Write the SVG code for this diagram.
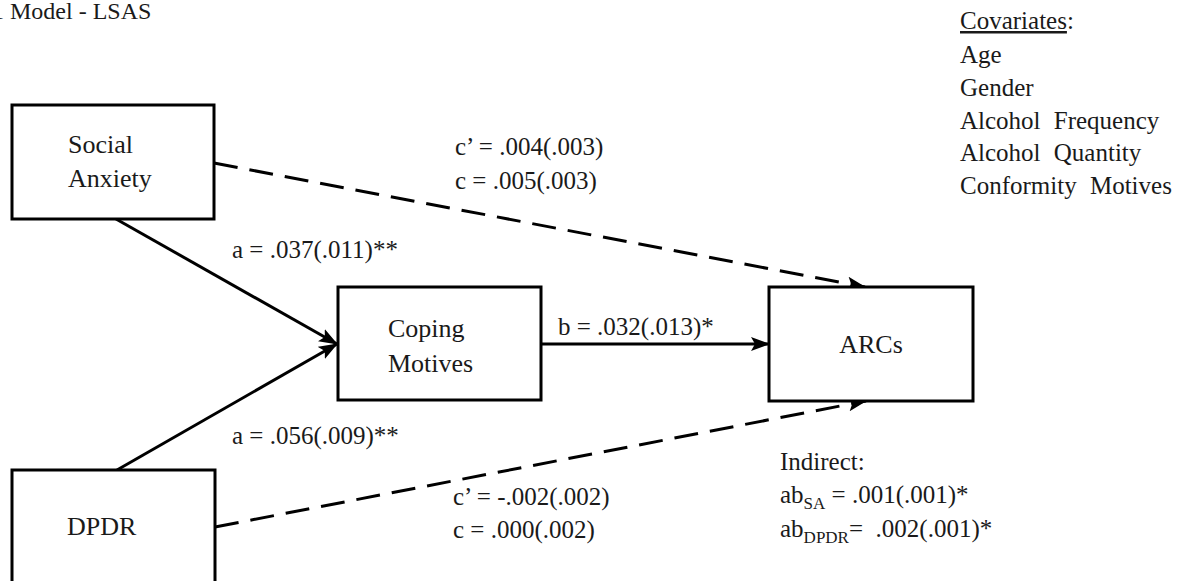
<svg xmlns="http://www.w3.org/2000/svg" width="1189" height="581" viewBox="0 0 1189 581">
<style>
text{font-family:"Liberation Serif","Times New Roman",serif;fill:#1a1a1a;font-size:25px}
.node rect{fill:#fff;stroke:#000;stroke-width:3}
.edge{fill:none;stroke:#000;stroke-width:3}
.dash{stroke-dasharray:24 12}
.nt{font-size:26px}
.sub{font-size:17px}
</style>
<defs>
<marker id="ah" markerUnits="userSpaceOnUse" markerWidth="20" markerHeight="16" viewBox="0 0 20 16" refX="18" refY="8" orient="auto">
<path d="M0,1 L19,8 L0,15 L4,8 Z" fill="#000"/>
</marker>
</defs>
<rect width="1189" height="581" fill="#fff"/>
<text x="-8" y="19" style="font-size:24px">1 Model - LSAS</text>
<g id="covariates">
<text x="960" y="29"><tspan text-decoration="underline">Covariates</tspan>:</text>
<text x="960" y="63">Age</text>
<text x="960" y="96">Gender</text>
<text x="960" y="129" word-spacing="7">Alcohol Frequency</text>
<text x="960" y="161" word-spacing="7">Alcohol Quantity</text>
<text x="960" y="194" word-spacing="7">Conformity Motives</text>
</g>
<g id="connectors">
<path class="edge" d="M116,219 L337,344" marker-end="url(#ah)"/>
<path class="edge" d="M117,470 L337,344" marker-end="url(#ah)"/>
<path class="edge" d="M541,344 L769,344" marker-end="url(#ah)"/>
<path class="edge dash" d="M214,163 L865,287" marker-end="url(#ah)"/>
<path class="edge dash" d="M215,527 L866,401" marker-end="url(#ah)"/>
<text x="455" y="155">c’ = .004(.003)</text>
<text x="455" y="189">c = .005(.003)</text>
<text x="232" y="258">a = .037(.011)**</text>
<text x="558" y="335">b = .032(.013)*</text>
<text x="232" y="444">a = .056(.009)**</text>
<text x="453" y="505">c’ = -.002(.002)</text>
<text x="453" y="538">c = .000(.002)</text>
</g>
<g id="social-anxiety" class="node">
<rect x="12" y="105" width="202" height="114"/>
<text class="nt" x="68" y="153">Social</text>
<text class="nt" x="68" y="187">Anxiety</text>
</g>
<g id="coping-motives" class="node">
<rect x="338" y="287" width="203" height="113"/>
<text class="nt" x="388" y="337">Coping</text>
<text class="nt" x="388" y="372">Motives</text>
</g>
<g id="arcs" class="node">
<rect x="769" y="287" width="204" height="114"/>
<text class="nt" x="871" y="353" text-anchor="middle">ARCs</text>
</g>
<g id="dpdr" class="node">
<rect x="12" y="470" width="203" height="130"/>
<text class="nt" x="67" y="535">DPDR</text>
</g>
<g id="indirect">
<text x="780" y="470">Indirect:</text>
<text x="780" y="503">ab<tspan class="sub" dy="6">SA</tspan><tspan dy="-6"> = .001(.001)*</tspan></text>
<text x="780" y="537" xml:space="preserve">ab<tspan class="sub" dy="6">DPDR</tspan><tspan dy="-6">=  .002(.001)*</tspan></text>
</g>
</svg>
